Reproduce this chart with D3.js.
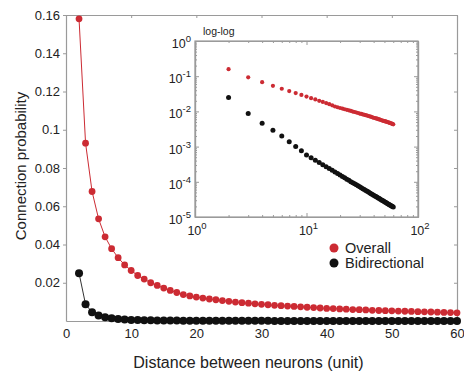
<!DOCTYPE html>
<html>
<head>
<meta charset="utf-8">
<script src="https://cdn.jsdelivr.net/npm/d3@7"></script>
<style>
  body { margin: 0; background: #fff; }
  svg { display: block; font-family: 'Liberation Sans', Arial, sans-serif; }
  .axis path, .axis line { stroke: #9a9a9a; }
  .axis text { fill: #222; }
</style>
</head>
<body>
<div id="graf"></div>
<script>
// Connection probability vs distance (with log-log inset)

// Datos
distancias = d3.range(2, 61)
overall = [0.158, 0.093, 0.0677, 0.0534, 0.044, 0.0378, 0.0331, 0.0293, 0.0264,
  0.0238, 0.0219, 0.0200, 0.0186, 0.0172, 0.0160, 0.0149, 0.0138, 0.0131, 0.0125,
  0.0120, 0.0115, 0.0111, 0.0107, 0.0103, 0.0099, 0.0096, 0.0093, 0.0090, 0.0087,
  0.0085, 0.0082, 0.0080, 0.0078, 0.0076, 0.0074, 0.0072, 0.0070, 0.0068, 0.0066,
  0.0065, 0.0063, 0.0062, 0.0060, 0.0059, 0.0058, 0.0056, 0.0055, 0.0054, 0.0053,
  0.0052, 0.0051, 0.0050, 0.0049, 0.0048, 0.0047, 0.0046, 0.0045, 0.0044, 0.0043]
bidirectional = [0.025, 0.0087, 0.0046, 0.0029, 0.0020, 0.00138, 0.00100, 0.00076, 0.00058,
  0.000484, 0.000410, 0.000352, 0.000306, 0.000268, 0.000237, 0.000212, 0.000190, 0.000171, 0.000155,
  0.000142, 0.000130, 0.000119, 0.000110, 0.000101, 0.0000944, 0.0000877, 0.0000818, 0.0000767, 0.0000720,
  0.0000677, 0.0000637, 0.0000600, 0.0000568, 0.0000537, 0.0000509, 0.0000484, 0.0000460, 0.0000438, 0.0000417,
  0.0000398, 0.0000380, 0.0000363, 0.0000348, 0.0000333, 0.0000319, 0.0000306, 0.0000294, 0.0000283, 0.0000272,
  0.0000262, 0.0000252, 0.0000243, 0.0000235, 0.0000227, 0.0000219, 0.0000212, 0.0000205, 0.0000198, 0.0000192]
xTicks = [0, 10, 20, 30, 40, 50, 60]
yTicks = [0.02, 0.04, 0.06, 0.08, 0.1, 0.12, 0.14, 0.16]
insetXTicks = [1, 10, 100]
insetYTicks = [1e-5, 1e-4, 1e-3, 1e-2, 1e-1, 1]
series = ['Overall', 'Bidirectional']

datos = distancias.map((d, i) => ({ d: d, overall: overall[i], bidir: bidirectional[i] }))

rojo = '#cc2b33'
negro = '#111111'

svg = d3.select('#graf').append('svg')
          .attr('width', 464)
          .attr('height', 376)

// Area principal
margins = { top: 15, left: 66, right: 7, bottom: 55 }
ancho = 464 - margins.left - margins.right
alto  = 376 - margins.top - margins.bottom

x = d3.scaleLinear().domain([0, 60]).range([margins.left, margins.left + ancho])
y = d3.scaleLinear().domain([0, 0.16]).range([margins.top + alto, margins.top])

svg.append('g')
  .attr('class', 'axis')
  .attr('transform', `translate(0, ${ margins.top + alto })`)
  .call(d3.axisBottom(x).tickValues(xTicks).tickSizeInner(-3).tickSizeOuter(0).tickPadding(8))
  .attr('font-size', 13)

svg.append('g')
  .attr('class', 'axis')
  .attr('transform', `translate(0, ${ margins.top })`)
  .call(d3.axisTop(x).tickValues(xTicks).tickSizeInner(-3).tickSizeOuter(0).tickFormat(''))

svg.append('g')
  .attr('class', 'axis')
  .attr('transform', `translate(${ margins.left }, 0)`)
  .call(d3.axisLeft(y).tickValues(yTicks).tickSizeInner(3).tickSizeOuter(0).tickPadding(3)
          .tickFormat(d => +d.toFixed(2)))
  .attr('font-size', 13)

svg.append('g')
  .attr('class', 'axis')
  .attr('transform', `translate(${ margins.left + ancho }, 0)`)
  .call(d3.axisRight(y).tickValues(yTicks).tickSizeInner(-3).tickSizeOuter(0).tickFormat(''))

svg.selectAll('.axis path').attr('stroke-width', 1.3)

// Titulos de los ejes
svg.append('text')
  .attr('x', x(28))
  .attr('y', 368)
  .attr('text-anchor', 'middle')
  .attr('font-size', 16)
  .attr('fill', '#222')
  .text('Distance between neurons (unit)')

svg.append('text')
  .attr('transform', `translate(26, ${ y(0.08) - 2 }) rotate(-90)`)
  .attr('text-anchor', 'middle')
  .attr('font-size', 15)
  .attr('fill', '#222')
  .text('Connection probability')

// Curvas
linea = key => d3.line().x(d => x(d.d)).y(d => y(d[key]))

svg.append('path')
  .datum(datos)
  .attr('d', linea('overall'))
  .attr('fill', 'none')
  .attr('stroke', rojo)
  .attr('stroke-width', 1)

svg.append('path')
  .datum(datos)
  .attr('d', linea('bidir'))
  .attr('fill', 'none')
  .attr('stroke', '#333')
  .attr('stroke-width', 1)

svg.append('g').selectAll('circle')
  .data(datos).enter()
  .append('circle')
    .attr('cx', d => x(d.d))
    .attr('cy', d => y(d.overall))
    .attr('r', 3.4)
    .attr('fill', rojo)

svg.append('g').selectAll('circle')
  .data(datos).enter()
  .append('circle')
    .attr('cx', d => x(d.d))
    .attr('cy', d => y(d.bidir))
    .attr('r', 4)
    .attr('fill', negro)

// Inset log-log
ix = d3.scaleLog().domain([1, 100]).range([195, 418])
iy = d3.scaleLog().domain([1e-5, 1]).range([217, 41])

svg.append('rect')
  .attr('x', 195).attr('y', 41)
  .attr('width', 418 - 195).attr('height', 217 - 41)
  .attr('fill', '#fff')
  .attr('stroke', '#9a9a9a')
  .attr('stroke-width', 1.2)

minorX = d3.range(1, 3).flatMap(e => d3.range(2, 10).map(m => m * Math.pow(10, e - 1)))
minorY = d3.range(-5, 0).flatMap(e => d3.range(2, 10).map(m => m * Math.pow(10, e)))

ejes = [
  [d3.axisBottom, ix, 217, insetXTicks, minorX, false],
  [d3.axisTop,    ix, 41,  insetXTicks, minorX, false],
  [d3.axisLeft,   iy, 195, insetYTicks, minorY, true],
  [d3.axisRight,  iy, 418, insetYTicks, minorY, true]
]
ejes.forEach(([axis, s, pos, major, minor, vert]) => {
  tr = vert ? `translate(${ pos }, 0)` : `translate(0, ${ pos })`
  svg.append('g').attr('class', 'axis').attr('transform', tr)
    .call(axis(s).tickValues(minor).tickSizeInner(-2).tickSizeOuter(0).tickFormat(''))
  svg.append('g').attr('class', 'axis').attr('transform', tr)
    .call(axis(s).tickValues(major).tickSizeInner(-4).tickSizeOuter(0).tickFormat(''))
})
svg.selectAll('.axis path').attr('stroke-width', 1.2)

exp = v => Math.round(Math.log10(v))

xl = svg.append('g').selectAll('text')
  .data(insetXTicks).enter()
  .append('text')
    .attr('x', d => ix(d) + 2)
    .attr('y', 235)
    .attr('text-anchor', 'middle')
    .attr('font-size', 12.5)
    .attr('fill', '#222')
xl.append('tspan').text('10')
xl.append('tspan').attr('dy', -6).attr('font-size', 9.5).text(d => exp(d))

yl = svg.append('g').selectAll('text')
  .data(insetYTicks).enter()
  .append('text')
    .attr('x', 191)
    .attr('y', d => iy(d) + 7)
    .attr('text-anchor', 'end')
    .attr('font-size', 12.5)
    .attr('fill', '#222')
yl.append('tspan').text('10')
yl.append('tspan').attr('dy', -6).attr('font-size', 9.5).text(d => exp(d))

svg.append('text')
  .attr('x', 203)
  .attr('y', 35)
  .attr('font-size', 10.5)
  .attr('fill', '#222')
  .text('log-log')

svg.append('g').selectAll('circle')
  .data(datos).enter()
  .append('circle')
    .attr('cx', d => ix(d.d))
    .attr('cy', d => iy(d.overall))
    .attr('r', 2.1)
    .attr('fill', rojo)

svg.append('g').selectAll('circle')
  .data(datos).enter()
  .append('circle')
    .attr('cx', d => ix(d.d))
    .attr('cy', d => iy(d.bidir))
    .attr('r', 2.5)
    .attr('fill', negro)

// Leyenda
ley = svg.append('g').selectAll('g')
  .data(series).enter()
  .append('g')
    .attr('transform', (d, i) => `translate(334, ${ 248 + i * 15 })`)
ley.append('circle')
  .attr('r', 4.5)
  .attr('fill', (d, i) => i == 0 ? rojo : negro)
ley.append('text')
  .attr('x', 11)
  .attr('y', 5)
  .attr('font-size', 14.5)
  .attr('fill', '#222')
  .text(d => d)
</script>
</body>
</html>
